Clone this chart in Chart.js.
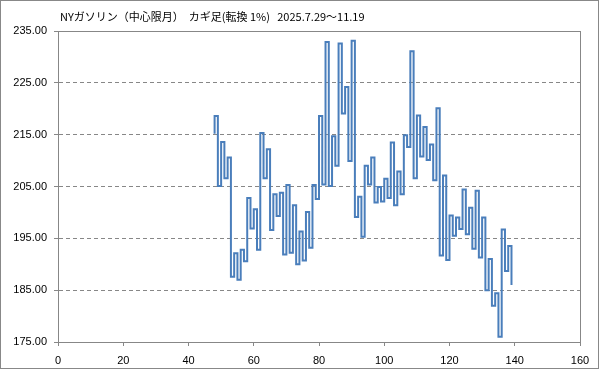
<!DOCTYPE html>
<html>
<head>
<meta charset="utf-8">
<script src="https://cdn.jsdelivr.net/npm/chart.js@4/dist/chart.umd.min.js"></script>
<style>
  html, body { margin: 0; padding: 0; background: #fff; }
  #wrap { width: 599px; height: 369px; }
</style>
</head>
<body>
<div id="wrap"><canvas id="chart-kagi" width="599" height="369"></canvas></div>
<script>
const TITLE = "NYガソリン（中心限月）  カギ足(転換 1%)   2025.7.29～11.19";

// カギ足: 開始位置と各折り返しの水準
const kagiStartX = 48;
const kagiStartValue = 215.2;
const kagiLevels = [
  218.6, 205.1, 213.6, 206.6, 210.6, 187.6, 192.1, 187.0, 192.8, 190.6,
  202.8, 196.9, 200.6, 192.8, 215.3, 206.6, 212.2, 196.6, 203.5, 199.3,
  203.8, 191.9, 205.3, 192.2, 201.4, 190.0, 196.3, 190.7, 200.1, 193.2,
  205.3, 202.6, 218.6, 205.4, 232.9, 205.1, 214.7, 209.0, 232.6, 219.1,
  224.2, 209.9, 233.1, 199.1, 203.0, 195.3, 209.0, 205.4, 210.6, 201.9,
  204.9, 202.1, 206.5, 202.8, 213.5, 201.4, 207.9, 203.5, 214.9, 212.6,
  231.1, 206.6, 218.7, 210.8, 216.5, 210.1, 213.1, 206.2, 220.1, 191.7,
  207.1, 190.8, 199.4, 195.5, 199.0, 196.8, 204.4, 195.8, 200.9, 193.0,
  204.2, 191.3, 199.0, 185.0, 191.0, 182.0, 184.4, 176.0, 196.7, 188.7,
  193.5, 186.0,
];

const xTicks = [0, 20, 40, 60, 80, 100, 120, 140, 160];
const yTicks = [175, 185, 195, 205, 215, 225, 235];

// 縦線→横線の順に点をつなぐ
function buildKagiPoints() {
  const pts = [{ x: kagiStartX, y: kagiStartValue }];
  kagiLevels.forEach((level, i) => {
    const x = kagiStartX + i;
    pts.push({ x: x, y: level });
    if (i < kagiLevels.length - 1) pts.push({ x: x + 1, y: level });
  });
  return pts;
}

const GRID_COLOR = "#878787";
const TICK_FONT = { family: "'Liberation Sans', Arial, sans-serif", size: 11 };

const framePlugin = {
  id: "frame",
  afterDraw(chart) {
    const ctx = chart.ctx;
    const a = chart.chartArea;
    ctx.save();
    ctx.strokeStyle = GRID_COLOR;
    ctx.lineWidth = 1;
    ctx.setLineDash([]);
    ctx.strokeRect(Math.round(a.left) + 0.5, Math.round(a.top) + 0.5,
      Math.round(a.right - a.left), Math.round(a.bottom - a.top));
    ctx.strokeStyle = "#888";
    ctx.strokeRect(0.5, 0.5, chart.width - 1, chart.height - 1);
    ctx.fillStyle = "#000";
    ctx.font = "11px 'Noto Sans CJK JP', sans-serif";
    ctx.textBaseline = "middle";
    ctx.textAlign = "left";
    ctx.fillText(TITLE, a.left + 2, 17);
    ctx.restore();
  },
};

const canvas = document.getElementById("chart-kagi");
new Chart(canvas.getContext("2d"), {
  type: "line",
  data: {
    datasets: [
      {
        data: buildKagiPoints(),
        borderColor: "#4a7ebb",
        borderWidth: 2,
        pointRadius: 0,
        tension: 0,
        fill: false,
        borderJoinStyle: "miter",
      },
    ],
  },
  plugins: [framePlugin],
  options: {
    responsive: false,
    animation: false,
    events: [],
    layout: { padding: { top: 31, right: 19, bottom: 0, left: 0 } },
    plugins: { legend: { display: false }, tooltip: { enabled: false } },
    scales: {
      x: {
        type: "linear",
        min: 0,
        max: 160,
        afterBuildTicks(axis) {
          axis.ticks = xTicks.map((v) => ({ value: v }));
        },
        afterFit(axis) { axis.height = 27; },
        grid: {
          drawOnChartArea: false,
          color: GRID_COLOR,
          tickLength: 4,
        },
        border: { color: GRID_COLOR },
        ticks: { color: "#000", font: TICK_FONT, padding: 8, maxRotation: 0 },
      },
      y: {
        min: 175,
        max: 235,
        afterBuildTicks(axis) {
          axis.ticks = yTicks.map((v) => ({ value: v }));
        },
        afterFit(axis) { axis.width = 58; },
        grid: {
          color: GRID_COLOR,
          tickLength: 4,
          tickBorderDash: [],
        },
        border: { color: GRID_COLOR, dash: [4, 3] },
        ticks: {
          color: "#000",
          font: TICK_FONT,
          padding: 7,
          callback: (v) => Number(v).toFixed(2),
        },
      },
    },
  },
});
</script>
</body>
</html>
